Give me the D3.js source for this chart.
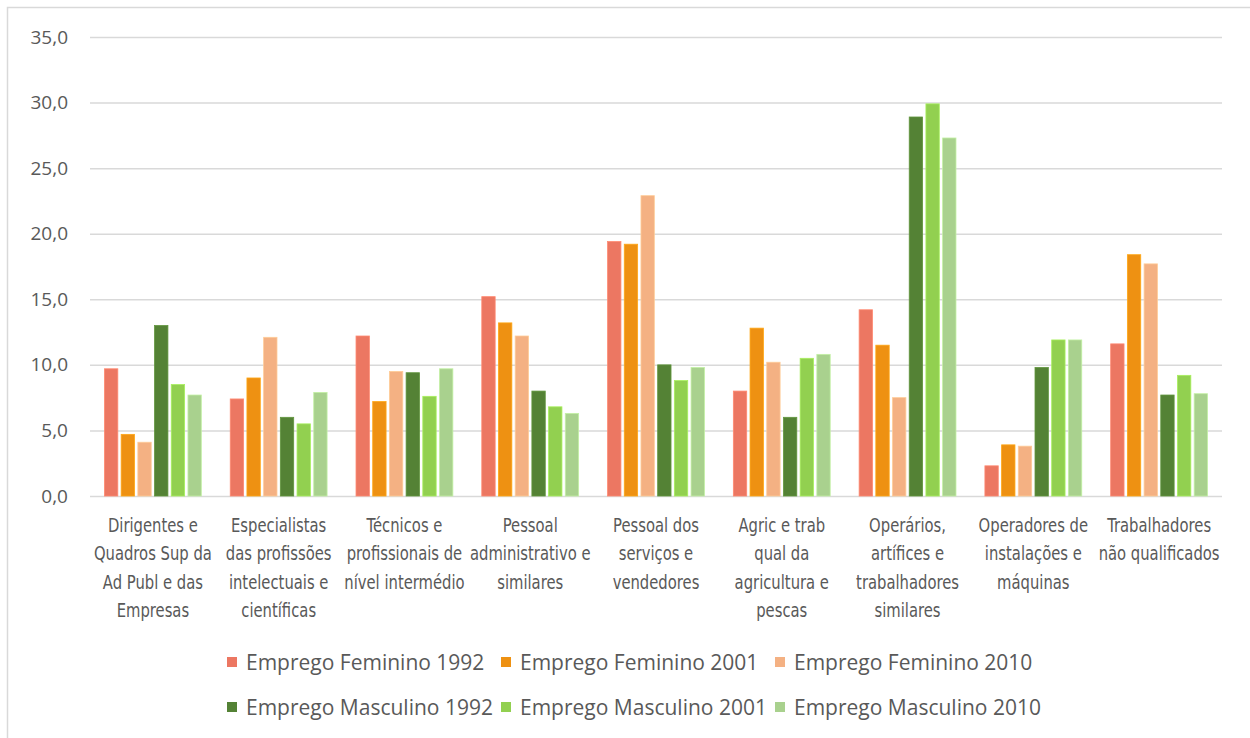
<html>
<script src='https://d3js.org/d3.v7.min.js'></script>
<style>
  body { margin: 0; background: white; }
  .tick text { font-family: 'Open Sans', sans-serif; font-size: 19px; fill: #595959; }
  .cat { font-family: 'DejaVu Sans', sans-serif; font-size: 20px; fill: #595959; }
  .leg { font-family: 'Open Sans', sans-serif; font-size: 21px; fill: #595959; }
</style>
<body>
<svg width=1250 height=738></svg>
<script>
// categories, already split into lines as in the original
const categories = [
  ["Dirigentes e", "Quadros Sup da", "Ad Publ e das", "Empresas"],
  ["Especialistas", "das profissões", "intelectuais e", "científicas"],
  ["Técnicos e", "profissionais de", "nível intermédio"],
  ["Pessoal", "administrativo e", "similares"],
  ["Pessoal dos", "serviços e", "vendedores"],
  ["Agric e trab", "qual da", "agricultura e", "pescas"],
  ["Operários,", "artífices e", "trabalhadores", "similares"],
  ["Operadores de", "instalações e", "máquinas"],
  ["Trabalhadores", "não qualificados"]
];
const seriesNames = ["Emprego Feminino 1992", "Emprego Feminino 2001", "Emprego Feminino 2010",
                     "Emprego Masculino 1992", "Emprego Masculino 2001", "Emprego Masculino 2010"];
const colors = ["#EC7762", "#EE9112", "#F4B183", "#548235", "#92D050", "#A9D18E"];

const fem1992 = [9.7, 7.4, 12.2, 15.2, 19.4, 8.0, 14.2, 2.3, 11.6];
const fem2001 = [4.7, 9.0, 7.2, 13.2, 19.2, 12.8, 11.5, 3.9, 18.4];
const fem2010 = [4.1, 12.1, 9.5, 12.2, 22.9, 10.2, 7.5, 3.8, 17.7];
const masc1992 = [13.0, 6.0, 9.4, 8.0, 10.0, 6.0, 28.9, 9.8, 7.7];
const masc2001 = [8.5, 5.5, 7.6, 6.8, 8.8, 10.5, 29.9, 11.9, 9.2];
const masc2010 = [7.7, 7.9, 9.7, 6.3, 9.8, 10.8, 27.3, 11.9, 7.8];
const series = [fem1992, fem2001, fem2010, masc1992, masc2001, masc2010];

const yTicks = [0, 5, 10, 15, 20, 25, 30, 35];

const svg = d3.select("svg");

// chart frame
svg.append("path")
  .attr("d", "M7.5,738 V7.5 H1250")
  .attr("fill", "none").attr("stroke", "#d9d9d9").attr("stroke-width", 1.5);

const plotLeft = 90, plotRight = 1222, plotTop = 37, plotBottom = 496;

const y = d3.scaleLinear().domain([0, 35]).range([plotBottom, plotTop]);
const x0 = d3.scaleBand().domain(d3.range(categories.length)).range([plotLeft, plotRight])
  .paddingInner(0.23).paddingOuter(0.115);
const x1 = d3.scaleBand().domain(d3.range(series.length)).range([0, x0.bandwidth()])
  .paddingInner(0.2);

// grid + y labels
const yAxis = svg.append("g")
  .attr("transform", "translate(" + plotLeft + ",0)")
  .call(d3.axisLeft(y).tickValues(yTicks)
    .tickSize(-(plotRight - plotLeft)).tickPadding(22)
    .tickFormat(d => d3.format(".1f")(d).replace(".", ",")));
yAxis.select(".domain").remove();
yAxis.selectAll(".tick line").attr("stroke", "#d9d9d9").attr("stroke-width", 1.5);

// bars
series.forEach(function(vals, s) {
  svg.append("g").selectAll("rect")
    .data(vals)
    .enter()
    .append("rect")
    .attr("x", (d, i) => x0(i) + x1(s))
    .attr("y", d => y(d))
    .attr("width", x1.bandwidth())
    .attr("height", d => y(0) - y(d))
    .attr("fill", colors[s])
    .attr("stroke", d3.color(colors[s]).brighter(0.4))
    .attr("stroke-width", 0.8);
});

// category labels (narrow font imitated with a horizontal squeeze)
categories.forEach(function(lines, i) {
  const cx = x0(i) + x0.bandwidth() / 2;
  const t = svg.append("text").attr("class", "cat")
    .attr("text-anchor", "middle")
    .attr("transform", "translate(" + cx + ",532) scale(0.74,1)");
  lines.forEach(function(l, k) {
    t.append("tspan").attr("x", 0)
      .attr("dy", k == 0 ? 0 : 28.3).text(l);
  });
});

// legend
seriesNames.forEach(function(name, s) {
  const lx = 227 + (s % 3) * 274;
  const ly = 662 + Math.floor(s / 3) * 45;
  svg.append("rect").attr("x", lx).attr("y", ly - 5).attr("width", 10).attr("height", 10)
    .attr("fill", colors[s]);
  svg.append("text").attr("class", "leg")
    .attr("x", lx + 19).attr("y", ly + 7.5).text(name);
});
</script>
</body>
</html>
